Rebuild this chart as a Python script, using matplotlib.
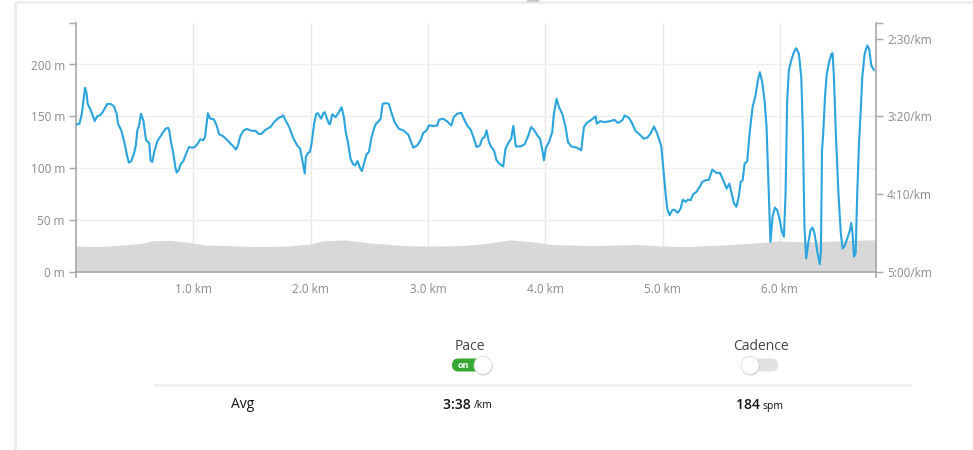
import matplotlib
matplotlib.use("Agg")
import matplotlib.pyplot as plt
from matplotlib.patches import FancyBboxPatch, Circle

# ---------------- data ----------------
pace_km = [0.0, 0.03, 0.05, 0.077, 0.09, 0.10, 0.125, 0.148, 0.16, 0.18, 0.205, 0.227, 0.267, 0.295,
           0.324, 0.347, 0.358, 0.386, 0.415, 0.432, 0.45, 0.47, 0.494, 0.51, 0.523, 0.537, 0.554,
           0.574, 0.597, 0.608, 0.625, 0.636, 0.65, 0.67, 0.693, 0.72, 0.744, 0.764, 0.784, 0.795,
           0.807, 0.83, 0.847, 0.858, 0.875, 0.892, 0.915, 0.937, 0.963, 0.983, 1.006, 1.034, 1.06,
           1.085, 1.10, 1.11, 1.125, 1.142, 1.176, 1.2, 1.22, 1.256, 1.29, 1.324, 1.347, 1.364,
           1.38, 1.40, 1.426, 1.455, 1.477, 1.5, 1.53, 1.56, 1.58, 1.61, 1.63, 1.66, 1.69, 1.73,
           1.75, 1.767, 1.787, 1.82, 1.85, 1.886, 1.91, 1.93, 1.95, 1.96, 1.977, 1.994, 2.008,
           2.03, 2.048, 2.063, 2.08, 2.09, 2.108, 2.12, 2.136, 2.156,
           2.165, 2.185, 2.213, 2.241, 2.264, 2.284, 2.298, 2.318, 2.34, 2.363, 2.38, 2.4, 2.42,
           2.437, 2.455, 2.477, 2.497, 2.517, 2.54, 2.557, 2.574, 2.597, 2.614, 2.64, 2.667, 2.688,
           2.716, 2.753, 2.79, 2.83, 2.852, 2.875, 2.909, 2.937, 2.96, 2.989, 3.009, 3.051, 3.08,
           3.094, 3.13, 3.16, 3.2, 3.22, 3.25, 3.285, 3.313, 3.335, 3.364, 3.386, 3.415, 3.443,
           3.463, 3.483, 3.5, 3.52, 3.54, 3.563, 3.585, 3.614, 3.642, 3.662, 3.69, 3.71, 3.728,
           3.739, 3.75, 3.79, 3.824, 3.853, 3.88, 3.904, 3.932, 3.955, 3.975, 3.989, 4.006, 4.032,
           4.06, 4.074, 4.097, 4.117, 4.145, 4.174, 4.194, 4.222, 4.27, 4.307, 4.33, 4.353, 4.387,
           4.43, 4.44, 4.47, 4.5, 4.557, 4.59, 4.62, 4.657, 4.677, 4.714, 4.742, 4.77,
           4.813, 4.84, 4.87, 4.898, 4.927, 4.955, 4.99, 5.006, 5.026, 5.04, 5.06, 5.083, 5.1,
           5.13, 5.154, 5.174, 5.197, 5.216, 5.24, 5.262, 5.29, 5.32, 5.338, 5.367, 5.396, 5.424,
           5.46, 5.49, 5.518, 5.546, 5.57, 5.586, 5.61, 5.63, 5.65, 5.666, 5.683, 5.7, 5.722,
           5.745, 5.768, 5.793, 5.813, 5.83, 5.85, 5.87, 5.887, 5.904, 5.92, 5.938, 5.958, 5.978,
           6.0, 6.018, 6.035, 6.049, 6.063, 6.077, 6.097, 6.12, 6.14, 6.163, 6.183, 6.197, 6.21,
           6.225, 6.242, 6.262, 6.279, 6.296, 6.32, 6.34, 6.35, 6.36, 6.37, 6.385, 6.4, 6.42,
           6.44, 6.45, 6.46, 6.48, 6.5, 6.52, 6.535, 6.552, 6.575, 6.598, 6.609, 6.62, 6.632,
           6.646, 6.66, 6.675, 6.69, 6.703, 6.723, 6.745, 6.762, 6.78, 6.802]

# pace in seconds per km
pace_sec = [205.3, 204.7, 198.3, 181.6, 185.3, 192.0, 196.0, 200.7, 203.0, 200.0, 199.3, 197.3, 192.0, 192.0,
            193.6, 198.3, 204.7, 209.0, 217.5, 224.0, 229.7, 228.9, 224.0, 218.7, 209.0, 206.0, 198.3,
            202.7, 215.3, 216.0, 217.3, 228.2, 229.3, 222.0, 216.0, 212.8, 210.0, 208.0, 207.3, 209.0,
            215.3, 224.0, 232.7, 236.0, 234.7, 230.7, 228.7, 224.3, 219.7, 220.0, 220.0, 218.0, 214.7,
            215.3, 213.3, 206.7, 198.0, 201.3, 202.0, 206.0, 211.5, 212.8, 215.3, 218.0, 219.7, 221.3,
            218.7, 212.8, 209.3, 208.0, 208.7, 209.3, 209.3, 211.3, 211.3, 209.0, 208.0, 206.7, 203.6, 200.7,
            200.4, 199.3, 202.7, 207.3, 213.7, 218.7, 220.7, 228.2, 236.7, 226.0, 223.5, 222.9, 217.5,
            204.7, 198.3, 198.0, 200.4, 201.5, 198.0, 197.3, 200.7, 204.7,
            205.1, 198.7, 200.5, 197.3, 194.1, 200.5, 209.4, 216.5, 227.2, 230.8, 231.5, 228.7, 232.9,
            235.1, 230.4, 224.4, 222.9, 214.3, 208.0, 204.7, 203.7, 201.5, 192.0, 191.5, 191.9, 197.3,
            203.7, 208.0, 209.0, 211.5, 215.4, 220.1, 218.7, 215.4, 210.7, 209.0, 205.8, 206.2, 205.8,
            202.2, 201.5, 203.0, 205.8, 200.5, 198.3, 197.7, 202.6, 205.8, 208.6, 212.9, 219.7, 218.7,
            214.3, 213.3, 209.0, 216.5, 219.7, 221.8, 228.2, 230.8, 232.1, 220.7, 216.5, 214.3, 206.2,
            212.9, 219.3, 219.3, 218.0, 212.9, 206.9, 208.6, 212.2, 214.3, 221.4, 228.2, 220.1, 216.5,
            210.1, 198.3, 188.7, 194.0, 198.3, 206.9, 216.5, 219.3, 220.1, 221.8, 206.9, 204.3, 202.6,
            200.0, 204.7, 203.0, 203.7, 203.0, 202.2, 204.3, 202.6, 199.4, 200.9, 204.7, 209.4,
            212.2, 214.3, 213.7, 211.1, 206.5, 211.1, 219.3, 232.5, 249.6, 259.2, 263.5, 260.3, 259.9,
            262.0, 259.2, 253.5, 254.9, 253.5, 253.9, 250.0, 248.5, 244.9, 242.1, 241.1, 240.7, 234.2,
            236.3, 236.3, 241.1, 246.4, 243.2, 248.5, 256.0, 258.1, 251.7, 242.1, 241.1, 230.4, 228.9,
            209.0, 194.0, 186.5, 176.9, 171.6, 178.0, 189.8, 206.9, 245.3, 280.6, 264.5, 258.6, 260.3,
            266.7, 274.1, 277.3, 249.6, 189.8, 170.5, 164.1, 158.8, 156.2, 159.9, 174.8, 211.1, 270.9,
            291.3, 281.7, 273.1, 271.4, 275.2, 287.0, 294.9, 288.1, 221.8, 211.1, 187.7, 172.7, 165.2,
            159.9, 159.4, 172.7, 215.4, 249.6, 275.2, 284.9, 283.3, 278.5, 273.1, 268.4, 275.2, 290.2,
            288.1, 249.6, 217.5, 196.2, 174.8, 159.9, 154.5, 156.7, 167.3, 170.1]

elev_km = [0.0, 0.2, 0.4, 0.55, 0.65, 0.8, 1.0, 1.1, 1.3, 1.5, 1.8, 2.0, 2.1, 2.3, 2.5, 2.8,
           3.0, 3.3, 3.5, 3.7, 3.9, 4.05, 4.4, 4.8, 5.0, 5.2, 5.5, 5.8, 6.0, 6.2, 6.4, 6.6, 6.82]
elev_m = [25, 24.5, 26, 27.5, 30, 30.5, 28, 26, 25.5, 24.5, 25, 27, 30, 31, 28, 25.5,
          25, 25.5, 27.5, 31, 29, 26.5, 25.5, 26.5, 25, 24.5, 26, 28, 30, 29, 29.5, 30.5, 31]

x_ticks = [1, 2, 3, 4, 5, 6]
x_tick_labels = ["1.0 km", "2.0 km", "3.0 km", "4.0 km", "5.0 km", "6.0 km"]
elev_ticks = [0, 50, 100, 150, 200]
elev_tick_labels = ["0 m", "50 m", "100 m", "150 m", "200 m"]
pace_ticks = [150, 200, 250, 300]
pace_tick_labels = ["2:30/km", "3:20/km", "4:10/km", "5:00/km"]

avg_label = "Avg"
avg_pace = "3:38"
avg_pace_unit = "/km"
avg_cadence = "184"
avg_cadence_unit = "spm"

# ---------------- figure ----------------
W, H = 973, 450
plt.rcParams['font.family'] = ['Open Sans', 'DejaVu Sans']
fig = plt.figure(figsize=(W / 100, H / 100), dpi=100)
fig.patch.set_facecolor('white')

# overlay in pixel coordinates
ov = fig.add_axes([0, 0, 1, 1], zorder=0)
ov.set_xlim(0, W)
ov.set_ylim(H, 0)
ov.axis('off')

# page borders
ov.plot([15, W], [1.5, 1.5], color='#ececf0', lw=2, solid_capstyle='butt')
ov.plot([15, 15], [1.5, H], color='#ececf0', lw=2, solid_capstyle='butt')
ov.plot([528, 538], [0.5, 0.5], color='#c8c8c8', lw=1.5)

AX_L, AX_R, AX_T, AX_B = 76, 876, 23, 272
ax = fig.add_axes([AX_L / W, 1 - AX_B / H, (AX_R - AX_L) / W, (AX_B - AX_T) / H], zorder=2)
ax.patch.set_alpha(0)

ax.set_xlim(0, 6.82)
ax.set_ylim(0, 240)
ax.fill_between(elev_km, elev_m, 0, color='#d8d8d8', lw=0, zorder=1)

for t in x_ticks:
    ax.axvline(t, color='#e8e8e8', lw=1, zorder=0)
for t in elev_ticks[1:]:
    ax.axhline(t, color='#efefef', lw=1, zorder=0)

ax.set_xticks(x_ticks)
ax.set_xticklabels(x_tick_labels)
ax.set_yticks(elev_ticks + [240])
ax.set_yticklabels(elev_tick_labels + [""])

tick_col = '#8a8a8a'
spine_col = '#a8a8a8'
ax.tick_params(axis='x', length=0, pad=8, labelsize=8.5, labelcolor=tick_col)
ax.tick_params(axis='y', length=5, width=1, color=spine_col, pad=3, labelsize=8.5, labelcolor=tick_col)
for s in ['top', 'right']:
    ax.spines[s].set_visible(False)
for s in ['left', 'bottom']:
    ax.spines[s].set_color(spine_col)
    ax.spines[s].set_linewidth(1.2)

ax2 = ax.twinx()
ax2.set_ylim(300, 140)
ax2.plot(pace_km, pace_sec, color='#2ba4dd', lw=1.5, zorder=3, solid_joinstyle='round')
ax2.set_yticks(pace_ticks + [140])
ax2.set_yticklabels(pace_tick_labels + [""])
ax2.tick_params(axis='y', length=5, width=1, color=spine_col, pad=3, labelsize=8.5, labelcolor=tick_col)
for s in ['top', 'left', 'bottom']:
    ax2.spines[s].set_visible(False)
ax2.spines['right'].set_color(spine_col)
ax2.spines['right'].set_linewidth(1.2)

# small downward ticks at the ends of the x axis
ov.plot([AX_L, AX_L], [AX_B, AX_B + 5], color=spine_col, lw=1.2)
ov.plot([AX_R, AX_R], [AX_B, AX_B + 5], color=spine_col, lw=1.2)

# ---------------- toggles ----------------
ov.text(470, 346, "Pace", ha='center', va='center', fontsize=10, color='#454545')
ov.text(761, 346, "Cadence", ha='center', va='center', fontsize=10, color='#454545')

green = FancyBboxPatch((452, 358.5), 36, 13, boxstyle="round,pad=0,rounding_size=6.5",
                       fc='#36a832', ec='none', zorder=2)
ov.add_patch(green)
ov.text(463.5, 365.0, "on", ha='center', va='center', fontsize=6.5, color='white', fontweight='bold', zorder=3)
ov.add_patch(Circle((483.5, 366.3), 9.2, fc='#d0d0d0', ec='none', zorder=3))
ov.add_patch(Circle((483, 365.3), 9, fc='white', ec='#dcdcdc', lw=0.6, zorder=4))

gray = FancyBboxPatch((743, 358.5), 35, 13, boxstyle="round,pad=0,rounding_size=6.5",
                      fc='#e2e2e2', ec='none', zorder=2)
ov.add_patch(gray)
ov.add_patch(Circle((750.5, 366.3), 9.2, fc='#d0d0d0', ec='none', zorder=3))
ov.add_patch(Circle((750, 365.3), 9, fc='white', ec='#dcdcdc', lw=0.6, zorder=4))

ov.plot([155, 910], [385, 385], color='#f1f1f1', lw=2)

# ---------------- averages ----------------
ov.text(243, 405, avg_label, ha='center', va='center', fontsize=10, color='#111111')
ov.text(474, 405, avg_pace + " ", ha='right', va='center', fontsize=10, color='#111111', fontweight='semibold')
ov.text(474, 406, avg_pace_unit, ha='left', va='center', fontsize=7.5, color='#111111')
ov.text(763, 405, avg_cadence + " ", ha='right', va='center', fontsize=10, color='#111111', fontweight='semibold')
ov.text(763, 406, avg_cadence_unit, ha='left', va='center', fontsize=7.5, color='#111111')

fig.savefig("out.png", dpi=100, facecolor='white')
